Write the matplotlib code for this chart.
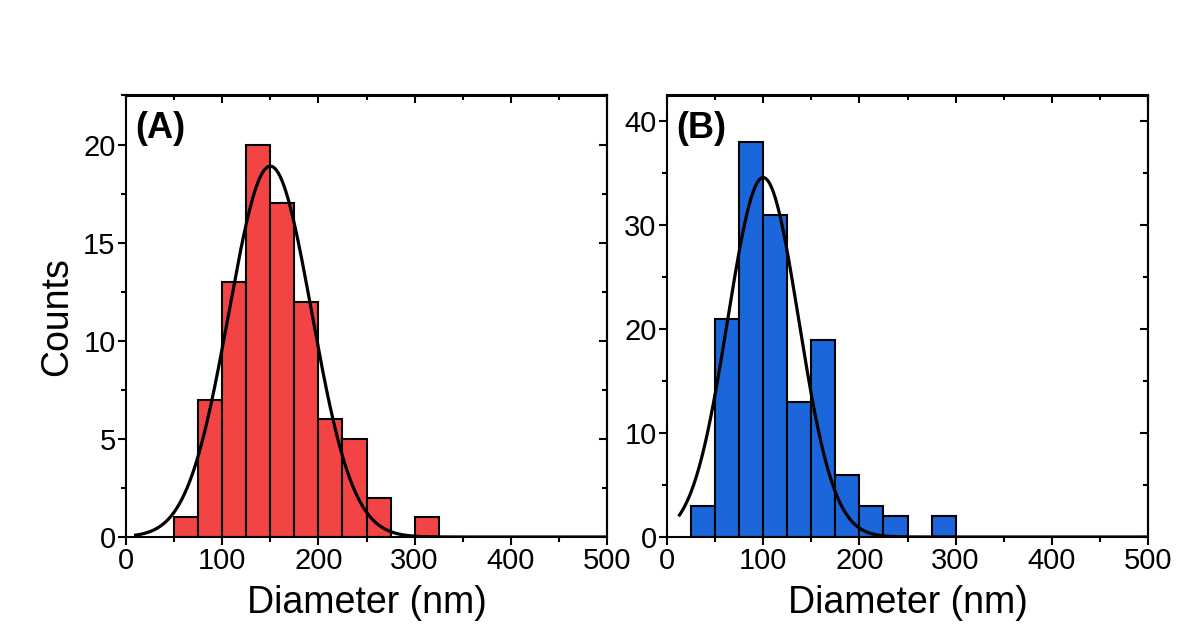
import numpy as np
import matplotlib
matplotlib.use("Agg")
import matplotlib.pyplot as plt
from matplotlib.ticker import MultipleLocator

plt.rcParams['font.family'] = ['Liberation Sans', 'DejaVu Sans']

# histogram data (bin left edges, counts), bin width 25 nm
bins_a = [50, 75, 100, 125, 150, 175, 200, 225, 250, 275, 300]
counts_a = [1, 7, 13, 20, 17, 12, 6, 5, 2, 0, 1]
bins_b = [25, 50, 75, 100, 125, 150, 175, 200, 225, 250, 275]
counts_b = [3, 21, 38, 31, 13, 19, 6, 3, 2, 0, 2]
bin_width = 25

# gaussian fit parameters (peak height, center, sigma)
fit_a = [18.9, 150, 43]
fit_b = [34.6, 100, 36.8]
fit_start_a = 10
fit_start_b = 13


def gauss(x, amp, mu, sig):
    return amp * np.exp(-(x - mu) ** 2 / (2 * sig ** 2))


def draw_panel(ax, bins, counts, color, fit, x0, ylim, ymaj, label):
    ax.bar(bins, counts, width=bin_width, align='edge', color=color,
           edgecolor='black', linewidth=1.5, zorder=2)
    x = np.linspace(x0, 500, 500)
    ax.plot(x, gauss(x, *fit), color='black', lw=2.3, zorder=3)
    ax.set_xlim(0, 500)
    ax.set_ylim(0, ylim)
    ax.xaxis.set_major_locator(MultipleLocator(100))
    ax.xaxis.set_minor_locator(MultipleLocator(50))
    ax.yaxis.set_major_locator(MultipleLocator(ymaj))
    ax.yaxis.set_minor_locator(MultipleLocator(ymaj / 2))
    ax.tick_params(which='both', direction='out', width=1.5, labelsize=21, pad=2)
    ax.tick_params(which='major', length=5.5)
    ax.tick_params(which='minor', length=3.5)
    for s in ax.spines.values():
        s.set_linewidth(1.5)
    # inward ticks on top and right
    tw = ax.secondary_xaxis('top')
    tw.xaxis.set_major_locator(MultipleLocator(100))
    tw.xaxis.set_minor_locator(MultipleLocator(50))
    tw.tick_params(which='both', direction='in', width=1.5, labeltop=False)
    tw.tick_params(which='major', length=5.5)
    tw.tick_params(which='minor', length=3.5)
    tw.spines['top'].set_linewidth(1.5)
    rw = ax.secondary_yaxis('right')
    rw.yaxis.set_major_locator(MultipleLocator(ymaj))
    rw.yaxis.set_minor_locator(MultipleLocator(ymaj / 2))
    rw.tick_params(which='both', direction='in', width=1.5, labelright=False)
    rw.tick_params(which='major', length=5.5)
    rw.tick_params(which='minor', length=3.5)
    rw.spines['right'].set_linewidth(1.5)
    ax.set_xlabel('Diameter (nm)', fontsize=27, labelpad=7)
    ax.text(0.019, 0.925, label, transform=ax.transAxes, fontsize=26,
            fontweight='bold', va='center', ha='left')


fig = plt.figure(figsize=(11.95, 6.24), dpi=100)
ax1 = fig.add_axes([126 / 1195, 87 / 624, 481 / 1195, 441.5 / 624])
ax2 = fig.add_axes([667 / 1195, 87 / 624, 481 / 1195, 441.5 / 624])

draw_panel(ax1, bins_a, counts_a, '#F24444', fit_a, fit_start_a, 22.5, 5, '(A)')
draw_panel(ax2, bins_b, counts_b, '#1A66DA', fit_b, fit_start_b, 42.5, 10, '(B)')
ax1.set_ylabel('Counts', fontsize=27, labelpad=6)

fig.savefig('out.png', dpi=100)
